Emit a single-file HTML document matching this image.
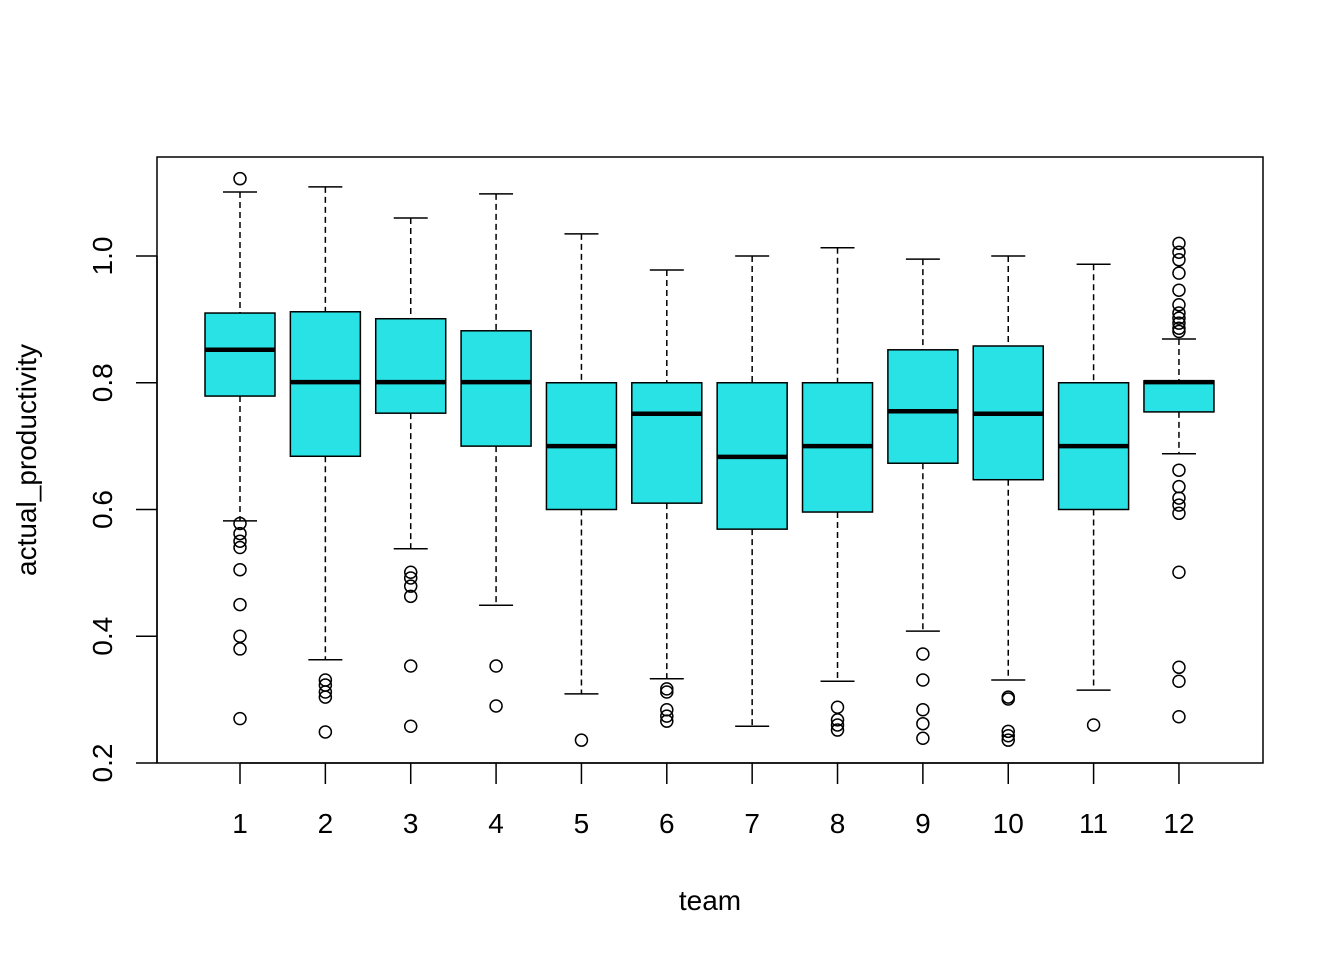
<!DOCTYPE html>
<html><head><meta charset="utf-8"><style>
body{margin:0;background:#fff}
svg{display:block;font-family:"Liberation Sans",Arial,sans-serif}
</style></head><body>
<svg id="chart" width="1344" height="960" viewBox="0 0 1344 960">
<rect x="0" y="0" width="1344" height="960" fill="#fff"/>
<g id="boxes"></g>
<rect x="157" y="157" width="1106" height="606" fill="none" stroke="#000" stroke-width="1.5"/>
<g id="axes"></g>
<text x="710" y="910" font-size="28" text-anchor="middle">team</text>
<text transform="translate(36,460) rotate(-90)" font-size="28" text-anchor="middle">actual_productivity</text>
</svg>
<script>
const teams=["1","2","3","4","5","6","7","8","9","10","11","12"];
const whiskerHigh=[1.101,1.109,1.06,1.098,1.035,0.978,1.0,1.013,0.995,1.0,0.987,0.869];
const q3=[0.910,0.912,0.901,0.882,0.80,0.80,0.80,0.80,0.852,0.858,0.80,0.803];
const medians=[0.852,0.801,0.801,0.801,0.70,0.751,0.683,0.70,0.755,0.751,0.70,0.801];
const q1=[0.779,0.684,0.752,0.700,0.60,0.61,0.569,0.596,0.673,0.647,0.60,0.754];
const whiskerLow=[0.582,0.363,0.538,0.449,0.309,0.333,0.258,0.329,0.408,0.331,0.315,0.688];
const outliers=[
[1.122,0.578,0.562,0.55,0.54,0.505,0.45,0.40,0.38,0.27],
[0.331,0.323,0.312,0.304,0.249],
[0.501,0.492,0.479,0.463,0.353,0.258],
[0.353,0.29],
[0.236],
[0.317,0.312,0.284,0.274,0.266],
[],
[0.288,0.268,0.26,0.252],
[0.372,0.331,0.284,0.262,0.239],
[0.304,0.301,0.25,0.243,0.236],
[0.26],
[1.02,1.006,0.994,0.973,0.946,0.923,0.91,0.902,0.894,0.886,0.881,0.662,0.636,0.618,0.607,0.594,0.501,0.351,0.329,0.273]];
const yTicks=[0.2,0.4,0.6,0.8,1.0];
const yTickLabels=["0.2","0.4","0.6","0.8","1.0"];

const NS="http://www.w3.org/2000/svg";
function y(v){return 763-(v-0.2)*633.75;}
function x(i){return 240+i*85.36;}
function mk(tag,attrs,parent){const e=document.createElementNS(NS,tag);for(const k in attrs)e.setAttribute(k,attrs[k]);parent.appendChild(e);return e;}
const gb=document.getElementById('boxes'), ga=document.getElementById('axes');
const hw=35;
teams.forEach((t,i)=>{
  const cx=x(i);
  const g=mk('g',{},gb);
  
  
  mk('line',{x1:cx,x2:cx,y1:y(whiskerHigh[i]),y2:y(q3[i]),stroke:'#000','stroke-width':1.5,'stroke-dasharray':'6,4'},g);
  mk('line',{x1:cx,x2:cx,y1:y(q1[i]),y2:y(whiskerLow[i]),stroke:'#000','stroke-width':1.5,'stroke-dasharray':'6,4'},g);
  mk('line',{x1:cx-17,x2:cx+17,y1:y(whiskerHigh[i]),y2:y(whiskerHigh[i]),stroke:'#000','stroke-width':1.5},g);
  mk('line',{x1:cx-17,x2:cx+17,y1:y(whiskerLow[i]),y2:y(whiskerLow[i]),stroke:'#000','stroke-width':1.5},g);
  mk('rect',{x:cx-hw,y:y(q3[i]),width:2*hw,height:y(q1[i])-y(q3[i]),fill:'#29E2E5',stroke:'#000','stroke-width':1.5},g);
  mk('line',{x1:cx-hw,x2:cx+hw,y1:y(medians[i]),y2:y(medians[i]),stroke:'#000','stroke-width':4.5},g);
  outliers[i].forEach(v=>{
    const c=mk('circle',{cx:cx,cy:y(v),r:6,fill:'none',stroke:'#000','stroke-width':1.5},g);
    
    
  });
  mk('line',{x1:cx,x2:cx,y1:763,y2:784,stroke:'#000','stroke-width':1.5},ga);
  const tl=mk('text',{x:cx,y:833,'font-size':28,'text-anchor':'middle'},ga);
  tl.textContent=t;
  
  
});
mk('line',{x1:x(0),x2:x(11),y1:763,y2:763,stroke:'#000','stroke-width':1.5},ga);
yTicks.forEach((v,i)=>{
  mk('line',{x1:136,x2:157,y1:y(v),y2:y(v),stroke:'#000','stroke-width':1.5},ga);
  const tl=mk('text',{transform:`translate(112,${y(v)}) rotate(-90)`,'font-size':28,'text-anchor':'middle'},ga);
  tl.textContent=yTickLabels[i];
  
  
});
mk('line',{x1:157,x2:157,y1:y(0.2),y2:y(1.0),stroke:'#000','stroke-width':1.5},ga);
</script>
</body></html>
